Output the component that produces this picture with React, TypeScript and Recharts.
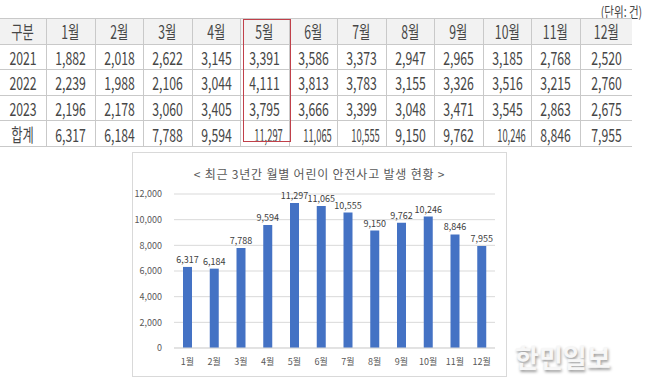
import { BarChart, Bar, XAxis, YAxis, CartesianGrid, LabelList } from "recharts";

const months = ["1월", "2월", "3월", "4월", "5월", "6월", "7월", "8월", "9월", "10월", "11월", "12월"];
const y2021 = [1882, 2018, 2622, 3145, 3391, 3586, 3373, 2947, 2965, 3185, 2768, 2520];
const y2022 = [2239, 1988, 2106, 3044, 4111, 3813, 3783, 3155, 3326, 3516, 3215, 2760];
const y2023 = [2196, 2178, 3060, 3405, 3795, 3666, 3399, 3048, 3471, 3545, 2863, 2675];
const totals = [6317, 6184, 7788, 9594, 11297, 11065, 10555, 9150, 9762, 10246, 8846, 7955];
const yTicks = [0, 2000, 4000, 6000, 8000, 10000, 12000];

const chartData = months.map((m, i) => ({ name: m, value: totals[i] }));

const fmt = (v: number) => v.toLocaleString("en-US");

const TEXT = "#474747";
const LINE = "#c9c9c9";
const ROW_H = 24.6;
const COL0 = 47;
const COL = 48.5;

function Cell({ text, squeeze = 0.68, bg }: { text: string; squeeze?: number; bg?: string }) {
  return (
    <td
      style={{
        height: ROW_H,
        padding: 0,
        textAlign: "center",
        borderTop: `1px solid ${LINE}`,
        borderBottom: `1px solid ${LINE}`,
        borderLeft: `1px solid ${LINE}`,
        background: bg,
        whiteSpace: "nowrap",
        overflow: "hidden",
      }}
    >
      <span style={{ display: "inline-block", transform: `scaleX(${squeeze})` }}>{text}</span>
    </td>
  );
}

function DataRow({ label, values, total }: { label: string; values: number[]; total?: boolean }) {
  return (
    <tr>
      <Cell text={label} />
      {values.map((v, i) => (
        <Cell key={i} text={fmt(v)} squeeze={total && v >= 10000 ? 0.52 : 0.68} />
      ))}
    </tr>
  );
}

export default function App() {
  const tableW = COL0 + COL * 11 + 52;
  return (
    <div
      style={{
        position: "fixed",
        left: 0,
        top: 0,
        width: 645,
        height: 391,
        background: "#fff",
        overflow: "hidden",
        fontFamily: "'Noto Sans CJK KR', 'Noto Sans', sans-serif",
        color: TEXT,
      }}
    >
      <div
        style={{
          position: "absolute",
          right: 3,
          top: 1,
          fontSize: 14,
          transform: "scaleX(0.75)",
          transformOrigin: "right center",
          whiteSpace: "nowrap",
        }}
      >
        (단위: 건)
      </div>

      <table
        style={{
          position: "absolute",
          left: -1,
          top: 18,
          width: tableW,
          borderCollapse: "collapse",
          tableLayout: "fixed",
          fontSize: 18,
          lineHeight: 1,
        }}
      >
        <colgroup>
          <col style={{ width: COL0 }} />
          {months.map((m, i) => (
            <col key={m} style={{ width: i === 11 ? 52 : COL }} />
          ))}
        </colgroup>
        <tbody>
          <tr>
            <Cell text="구분" bg="#f2f2f2" />
            {months.map((m) => (
              <Cell key={m} text={m} bg="#f2f2f2" />
            ))}
          </tr>
          <DataRow label="2021" values={y2021} />
          <DataRow label="2022" values={y2022} />
          <DataRow label="2023" values={y2023} />
          <DataRow label="합계" values={totals} total />
        </tbody>
      </table>

      <div
        style={{
          position: "absolute",
          left: 243,
          top: 19,
          width: 48,
          height: 123,
          border: "1.5px solid #c0404a",
          boxSizing: "border-box",
        }}
      />

      <div
        style={{
          position: "absolute",
          left: 132,
          top: 152,
          width: 375,
          height: 225,
          border: "1px solid #d9d9d9",
          boxSizing: "border-box",
        }}
      >
        <div
          style={{
            position: "absolute",
            left: 0,
            width: 373,
            top: 12,
            textAlign: "center",
            fontSize: 12,
            letterSpacing: 0.8,
            color: "#595959",
            whiteSpace: "nowrap",
          }}
        >
          {"< 최근 3년간 월별 어린이 안전사고 발생 현황 >"}
        </div>
        <BarChart
          width={373}
          height={223}
          data={chartData}
          margin={{ top: 41, right: 11, left: 0, bottom: 8 }}
          barSize={9}
        >
          <CartesianGrid stroke="#d9d9d9" vertical={false} />
          <XAxis
            dataKey="name"
            axisLine={{ stroke: "#d9d9d9" }}
            tickLine={false}
            tickMargin={5}
            height={20}
            interval={0}
            tick={{ fontSize: 9, fill: "#595959" }}
          />
          <YAxis
            width={41}
            domain={[0, 12000]}
            ticks={yTicks}
            axisLine={false}
            tickLine={false}
            tickMargin={6}
            tickFormatter={fmt}
            tick={{ fontSize: 9, fill: "#595959" }}
          />
          <Bar dataKey="value" fill="#4472c4" isAnimationActive={false}>
            <LabelList dataKey="value" position="top" offset={4} formatter={(v: any) => fmt(Number(v))} style={{ fontSize: 9, fill: "#404040" }} />
          </Bar>
        </BarChart>
      </div>

      <div
        style={{
          position: "absolute",
          left: 515,
          top: 338,
          fontSize: 26,
          fontWeight: 700,
          color: "#f7f7f7",
          textShadow: "1px 2px 3px rgba(0,0,0,0.4)",
          whiteSpace: "nowrap",
        }}
      >
        한민일보
      </div>
    </div>
  );
}
